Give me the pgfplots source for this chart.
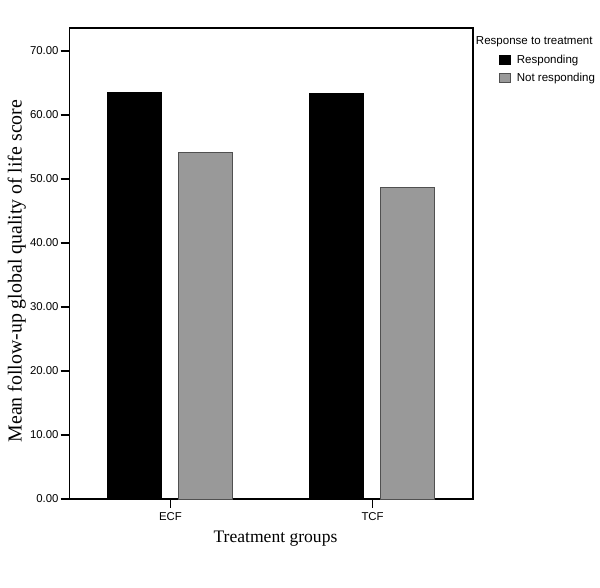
\documentclass[border=0pt]{standalone}
\usepackage{fontspec}
\setmainfont{Liberation Serif}
\newfontfamily\arial{Liberation Sans}
\usepackage{pgfplots}
\pgfplotsset{compat=1.18}

\definecolor{barblack}{RGB}{0,0,0}
\definecolor{bargray}{RGB}{153,153,153}
\definecolor{edgegray}{RGB}{80,80,80}

% 1 px of the reference = 0.025cm
\begin{document}
\begin{tikzpicture}
\useasboundingbox (-1.7375cm,-2.225cm) rectangle (13.2625cm,12.475cm);
\begin{axis}[
  scale only axis,
  width=10.0875cm, height=11.775cm,
  xmin=-0.5, xmax=1.497,
  ymin=0, ymax=73.6,
  axis line style={line width=0.9pt},
  xtick={0,1}, xticklabels={ECF,TCF},
  ytick={0,10,20,30,40,50,60,70},
  tick align=outside, major tick length=0.22cm,
  tick style={line width=0.8pt, black},
  xtick pos=bottom, ytick pos=left,
  /pgf/number format/.cd, fixed, fixed zerofill, precision=2, assume math mode=true,
  /pgfplots/.cd,
  tick label style={font=\arial\fontsize{8.1}{9}\selectfont},
  yticklabel style={xshift=0.07cm},
  xlabel={Treatment groups},
  ylabel={Mean follow-up global quality of life score},
  xlabel style={font=\fontsize{12.5}{14}\selectfont, at={(axis description cs:0.5105,-0.0928)}, anchor=base},
  ylabel style={font=\fontsize{14.1}{16}\selectfont, at={(axis description cs:-0.1185,0.484)}, anchor=base},
  clip=false,
  legend style={at={(axis description cs:1.0645,0.9495)}, anchor=north west, draw=none, fill=none,
    font=\arial\fontsize{8.2}{9}\selectfont, inner sep=0pt, row sep=1.3pt,
    /tikz/every odd column/.append style={column sep=0.09cm}},
  legend cell align=left,
  legend image code/.code={\draw[#1] (0cm,-0.116cm) rectangle (0.2575cm,0.116cm);},
]
\addplot[ybar, bar width=0.267, bar shift=-0.178, fill=barblack, draw=barblack, line width=0.6pt]
  coordinates {(0,63.49) (1,63.33)};
\addlegendentry{Responding}
\addplot[ybar, bar width=0.265, bar shift=0.172, fill=bargray, draw=edgegray, line width=0.6pt]
  coordinates {(0,54.17) (1,48.75)};
\addlegendentry{Not responding}
\node[anchor=base west, font=\arial\fontsize{8.2}{9}\selectfont, inner sep=0pt]
  at (axis description cs:1.0067,0.9639) {Response to treatment};
\end{axis}
\end{tikzpicture}
\end{document}
